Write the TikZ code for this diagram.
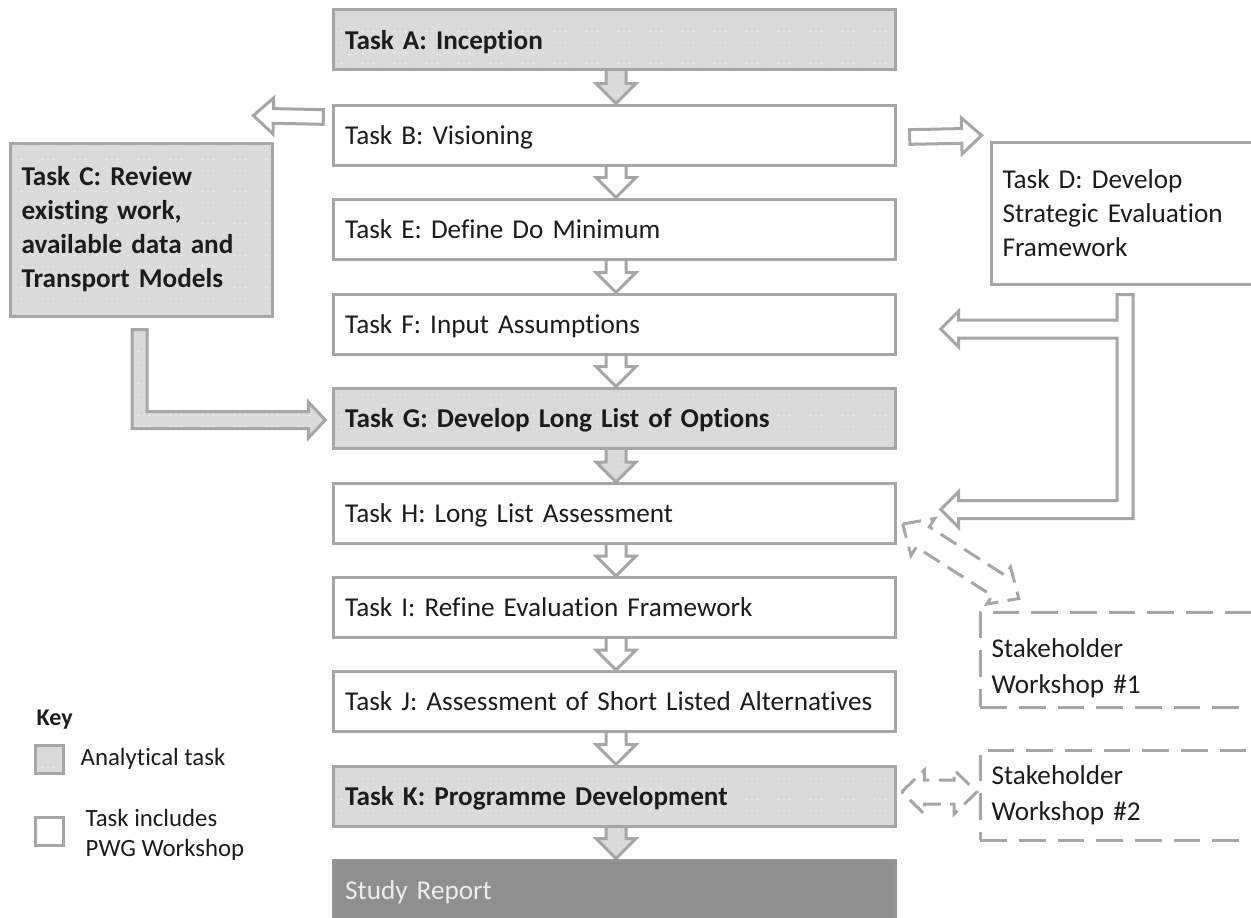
\documentclass[tikz,border=0pt]{standalone}
\usepackage{fontspec}
\setmainfont[Ligatures={NoCommon}]{Carlito}
\usetikzlibrary{calc,patterns.meta}
\definecolor{edge}{HTML}{A6A6A6}
\definecolor{shade}{HTML}{DADADA}
\definecolor{report}{HTML}{8F8F8F}
\definecolor{ink}{HTML}{1C1C1C}
\pgfdeclarelayer{background}
\pgfsetlayers{background,main}

% block arrow: style, tail, tip, shaft half-width, head half-width, head length
\newcommand{\blockarr}[6]{%
  \path ($(#3)!#6!(#2)$) coordinate (ba-h);
  \draw[#1] ($(#2)!#4!90:(#3)$) -- ($(ba-h)!#4!90:(#3)$) -- ($(ba-h)!#5!90:(#3)$) -- (#3)
    -- ($(ba-h)!#5!-90:(#3)$) -- ($(ba-h)!#4!-90:(#3)$) -- ($(#2)!#4!-90:(#3)$) -- cycle;}
% double-headed block arrow: style, end 1, end 2, shaft half-width, head half-width, head length
\newcommand{\twinarr}[6]{%
  \path ($(#2)!#6!(#3)$) coordinate (ta-a) ($(#3)!#6!(#2)$) coordinate (ta-b);
  \draw[#1] (#2) -- ($(ta-a)!#5!90:(#3)$) -- ($(ta-a)!#4!90:(#3)$) -- ($(ta-b)!#4!90:(#3)$)
    -- ($(ta-b)!#5!90:(#3)$) -- (#3) -- ($(ta-b)!#5!-90:(#3)$) -- ($(ta-b)!#4!-90:(#3)$)
    -- ($(ta-a)!#4!-90:(#3)$) -- ($(ta-a)!#5!-90:(#3)$) -- cycle;}
% downward arrow between two stacked tasks
\newcommand{\flowarrow}[3]{%
  \path ($(#2.south)+(1.5,-3)$) coordinate (fa-t) ($(#3.north)+(1.5,0)$) coordinate (fa-h);
  \blockarr{#1}{fa-t}{fa-h}{7.5pt}{15pt}{15pt}}

\tikzset{
  boxline/.style={draw=edge, line width=2.25pt},
  dotshade/.style={preaction={fill=shade}, pattern={Dots[distance=8pt,radius=0.45pt]}, pattern color=white},
  taskfont/.style={font=\fontsize{20.4}{25.5}\selectfont},
  taskbase/.style={boxline, text width=404pt, inner xsep=8.5pt, minimum height=45pt,
    align=left, text=ink, taskfont},
  oneline/.style={text height=18pt, text depth=4pt},
  plain/.style={taskbase, fill=white},
  analytic/.style={taskbase, dotshade, font=\fontsize{20.4}{25.5}\selectfont\bfseries},
  hollow/.style={draw=edge, line width=2.25pt, fill=white},
  solidgray/.style={draw=edge, line width=2.25pt, dotshade},
  dashedarr/.style={draw=edge, line width=2.25pt, fill=white, dash pattern=on 14pt off 7pt},
  workshop/.style={draw=edge, line width=2.25pt, dash pattern=on 20pt off 9pt, text width=194pt,
    inner xsep=8.5pt, align=left, text=ink, font=\fontsize{20.4}{27}\selectfont},
  keybox/.style={boxline, minimum size=21pt, inner sep=0pt},
  keytext/.style={anchor=west, align=left, text=ink, font=\fontsize{18.6}{22.5}\selectfont},
}

\begin{document}
\begin{tikzpicture}[x=0.75pt,y=-0.75pt]
\useasboundingbox (0,0) rectangle (1251,917);

% main sequence of tasks
\node[analytic, oneline] (A) at (614.5,40) {Task A: Inception};
\node[plain, oneline] (B) at (614.5,135) {Task B: Visioning};
\node[plain, oneline] (E) at (614.5,229) {Task E: Define Do Minimum};
\node[plain, oneline] (F) at (614.5,324) {Task F: Input Assumptions};
\node[analytic, oneline] (G) at (614.5,418) {Task G: Develop Long List of Options};
\node[plain, oneline] (H) at (614.5,513.5) {Task H: Long List Assessment};
\node[plain, oneline] (I) at (614.5,607.5) {Task I: Refine Evaluation Framework};
\node[plain, oneline] (J) at (614.5,701.5) {Task J: Assessment of Short Listed Alternatives};
\node[analytic, oneline] (K) at (614.5,796) {Task K: Programme Development};
\node[taskbase, oneline, fill=report, draw=report!95!white, text=white!93!black] (SR) at (614.5,890) {Study Report};

% side tasks
\node[analytic, text width=180pt, minimum height=129.75pt] (C) at (141.5,229.5)
  {Task C: Review\\existing work,\\available data and\\Transport Models};
\node[plain, text width=186pt, minimum height=106.5pt] (D) at (1126.5,213)
  {Task D: Develop\\Strategic Evaluation\\Framework};

% stakeholder workshops (first baseline placed by text height/depth)
\node[workshop, minimum height=71.25pt, text height=14pt, text depth=16.3pt] (W1) at (1121,659.5)
  {Stakeholder\\Workshop \#1};
\node[workshop, minimum height=67.5pt, text height=14pt, text depth=30pt] (W2) at (1121,795)
  {Stakeholder\\Workshop \#2};

% key
\node[anchor=west, text=ink, font=\fontsize{18}{22}\selectfont\bfseries] (keyttl) at (32,720) {Key};
\node[keybox, dotshade] (k1) at (49,759.5) {};
\node[keytext] (k1t) at (76,759) {Analytical task};
\node[keybox, fill=white] (k2) at (49,831) {};
\node[keytext] (k2t) at (81,835) {Task includes\\PWG Workshop};

\begin{pgfonlayer}{background}
  % flow down the main column
  \flowarrow{solidgray}{A}{B}
  \flowarrow{hollow}{B}{E}
  \flowarrow{hollow}{E}{F}
  \flowarrow{hollow}{F}{G}
  \flowarrow{solidgray}{G}{H}
  \flowarrow{hollow}{H}{I}
  \flowarrow{hollow}{I}{J}
  \flowarrow{hollow}{J}{K}
  \flowarrow{solidgray}{K}{SR}

  % Visioning feeds Tasks C and D
  \path ($(B.west)+(-9,-18)$) coordinate (bc-t) ($(C.north east)+(-21,-26)$) coordinate (bc-h);
  \blockarr{hollow}{bc-t}{bc-h}{5.5pt}{13.5pt}{15pt}
  \path ($(B.east)+(13,2)$) coordinate (bd-t) ($(D.north west)+(-8,-5)$) coordinate (bd-h);
  \blockarr{hollow}{bd-t}{bd-h}{5.5pt}{13.5pt}{15pt}

  % Task C into Task G
  \path ($(C.south)+(-2,12)$) coordinate (cT) ($(G.west)+(-7,2)$) coordinate (cTip);
  \draw[solidgray] ($(cT)+(-7.5,0)$) -- ($(cT)+(7.5,0)$) -- ($(cT|-cTip)+(7.5,-8.5)$)
    -- ($(cTip)+(-17,-8.5)$) -- ($(cTip)+(-17,-18)$) -- (cTip) -- ($(cTip)+(-17,18)$)
    -- ($(cTip)+(-17,8.5)$) -- ($(cT|-cTip)+(-7.5,8.5)$) -- cycle;

  % Task D into Tasks F and H
  \path ($(D.south)+(-1.5,9)$) coordinate (dT) ($(F.east)+(44,5)$) coordinate (fTip)
        ($(H.east)+(44,-4)$) coordinate (hTip);
  \draw[hollow] ($(dT)+(-8,0)$) -- ($(dT)+(8,0)$) -- ($(dT|-hTip)+(8,9)$)
    -- ($(hTip)+(18,9)$) -- ($(hTip)+(18,18)$) -- (hTip) -- ($(hTip)+(18,-18)$)
    -- ($(hTip)+(18,-9)$) -- ($(dT|-hTip)+(-8,-9)$) -- ($(dT|-fTip)+(-8,9)$)
    -- ($(fTip)+(18,9)$) -- ($(fTip)+(18,18)$) -- (fTip) -- ($(fTip)+(18,-18)$)
    -- ($(fTip)+(18,-9)$) -- ($(dT|-fTip)+(-8,-9)$) -- cycle;

  % links with the stakeholder workshops
  \path ($(H.east)+(6,10.5)$) coordinate (hw-a) ($(W1.north west)+(40,-12)$) coordinate (hw-b);
  \twinarr{dashedarr}{hw-a}{hw-b}{9pt}{16.5pt}{18pt}
  \path ($(K.east)+(5,-4)$) coordinate (kw-a) ($(W2.west)+(-2,-3)$) coordinate (kw-b);
  \twinarr{dashedarr}{kw-a}{kw-b}{9pt}{16.5pt}{17pt}
\end{pgfonlayer}
\end{tikzpicture}
\end{document}
